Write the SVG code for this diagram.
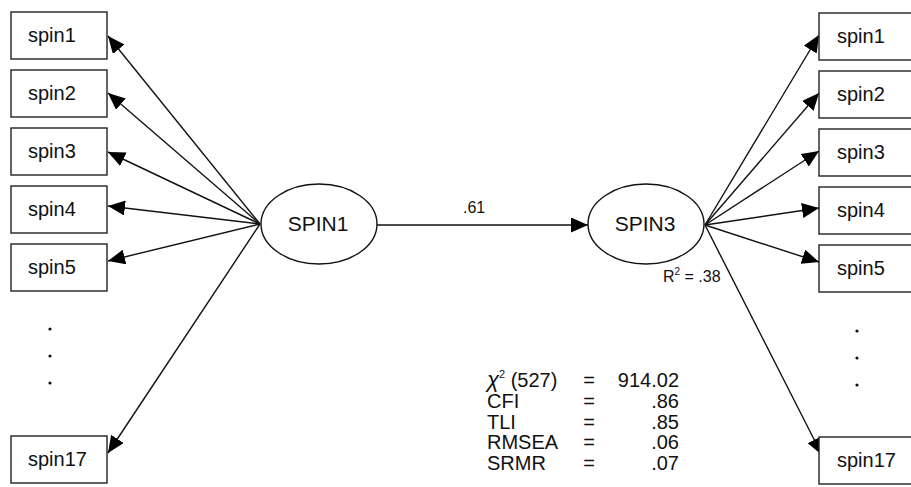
<svg xmlns="http://www.w3.org/2000/svg" width="911" height="487" viewBox="0 0 911 487">
<defs>
<marker id="ah" markerUnits="userSpaceOnUse" markerWidth="18" markerHeight="15" refX="17" refY="7.5" orient="auto">
<path d="M0,0 L17,7.5 L0,15 z" fill="#000"/>
</marker>
<style>
.box{fill:#fff;stroke:#222;stroke-width:1.4}
.ell{fill:#fff;stroke:#111;stroke-width:1.4}
.lbl{font-family:"Liberation Sans",Arial,sans-serif;font-size:20px;fill:#111}
.nl{font-family:"Liberation Sans",Arial,sans-serif;font-size:21px;fill:#111}
.st{font-family:"Liberation Sans",Arial,sans-serif;font-size:20px;fill:#111}
.sm{font-family:"Liberation Sans",Arial,sans-serif;font-size:16px;fill:#111}
.ln{stroke:#111;stroke-width:1.4;fill:none;marker-end:url(#ah)}
.dot{fill:#111}
</style>
</defs>
<rect width="911" height="487" fill="#fff"/>
<g id="connectors">
<line class="ln" x1="260" y1="224" x2="108" y2="36"/>
<line class="ln" x1="260" y1="224" x2="108" y2="93"/>
<line class="ln" x1="260" y1="224" x2="108" y2="152"/>
<line class="ln" x1="260" y1="224" x2="108" y2="206"/>
<line class="ln" x1="260" y1="224" x2="108" y2="261"/>
<line class="ln" x1="260" y1="224" x2="108" y2="453"/>
<line class="ln" x1="377" y1="225" x2="588" y2="225"/>
<line class="ln" x1="705" y1="225" x2="819" y2="35"/>
<line class="ln" x1="705" y1="225" x2="819" y2="93"/>
<line class="ln" x1="705" y1="225" x2="819" y2="151"/>
<line class="ln" x1="705" y1="225" x2="819" y2="208"/>
<line class="ln" x1="705" y1="225" x2="819" y2="262"/>
<line class="ln" x1="705" y1="225" x2="822" y2="455"/>
<text class="sm" x="463" y="213">.61</text>
<text class="sm" x="663" y="282">R<tspan font-size="10" dy="-7">2</tspan><tspan dy="7"> = .38</tspan></text>
</g>
<g id="L1"><rect class="box" x="11" y="12" width="96" height="47"/><text class="lbl" x="28" y="42">spin1</text></g>
<g id="L2"><rect class="box" x="11" y="70" width="96" height="47"/><text class="lbl" x="28" y="100">spin2</text></g>
<g id="L3"><rect class="box" x="11" y="128" width="96" height="47"/><text class="lbl" x="28" y="158">spin3</text></g>
<g id="L4"><rect class="box" x="11" y="186" width="96" height="47"/><text class="lbl" x="28" y="216">spin4</text></g>
<g id="L5"><rect class="box" x="11" y="244" width="96" height="47"/><text class="lbl" x="28" y="274">spin5</text></g>
<g id="L17"><rect class="box" x="11" y="436" width="96" height="47"/><text class="lbl" x="28" y="466">spin17</text></g>
<g id="Ldots"><circle class="dot" cx="50" cy="329" r="1.6"/><circle class="dot" cx="50" cy="356" r="1.6"/><circle class="dot" cx="50" cy="383" r="1.6"/></g>
<g id="SPIN1"><ellipse class="ell" cx="319" cy="224" rx="58" ry="40"/><text class="nl" x="318" y="231" text-anchor="middle">SPIN1</text></g>
<g id="SPIN3"><ellipse class="ell" cx="646" cy="224" rx="58" ry="40"/><text class="nl" x="645" y="231" text-anchor="middle">SPIN3</text></g>
<g id="R1"><rect class="box" x="819" y="13" width="100" height="47"/><text class="lbl" x="837" y="43">spin1</text></g>
<g id="R2"><rect class="box" x="819" y="71" width="100" height="47"/><text class="lbl" x="837" y="101">spin2</text></g>
<g id="R3"><rect class="box" x="819" y="129" width="100" height="47"/><text class="lbl" x="837" y="159">spin3</text></g>
<g id="R4"><rect class="box" x="819" y="187" width="100" height="47"/><text class="lbl" x="837" y="217">spin4</text></g>
<g id="R5"><rect class="box" x="819" y="245" width="100" height="47"/><text class="lbl" x="837" y="275">spin5</text></g>
<g id="R17"><rect class="box" x="819" y="437" width="100" height="47"/><text class="lbl" x="837" y="467">spin17</text></g>
<g id="Rdots"><circle class="dot" cx="857" cy="331" r="1.6"/><circle class="dot" cx="857" cy="358" r="1.6"/><circle class="dot" cx="857" cy="385" r="1.6"/></g>
<g id="stats">
<text class="st" x="487" y="387"><tspan font-style="italic" font-size="22">χ</tspan><tspan font-size="11" dy="-9">2</tspan><tspan dy="9"> (527)</tspan></text>
<text class="st" x="487" y="408">CFI</text>
<text class="st" x="487" y="429">TLI</text>
<text class="st" x="487" y="449">RMSEA</text>
<text class="st" x="487" y="470">SRMR</text>
<text class="st" x="589" y="387" text-anchor="middle">=</text>
<text class="st" x="589" y="408" text-anchor="middle">=</text>
<text class="st" x="589" y="429" text-anchor="middle">=</text>
<text class="st" x="589" y="449" text-anchor="middle">=</text>
<text class="st" x="589" y="470" text-anchor="middle">=</text>
<text class="st" x="679" y="387" text-anchor="end">914.02</text>
<text class="st" x="679" y="408" text-anchor="end">.86</text>
<text class="st" x="679" y="429" text-anchor="end">.85</text>
<text class="st" x="679" y="449" text-anchor="end">.06</text>
<text class="st" x="679" y="470" text-anchor="end">.07</text>
</g>
</svg>
